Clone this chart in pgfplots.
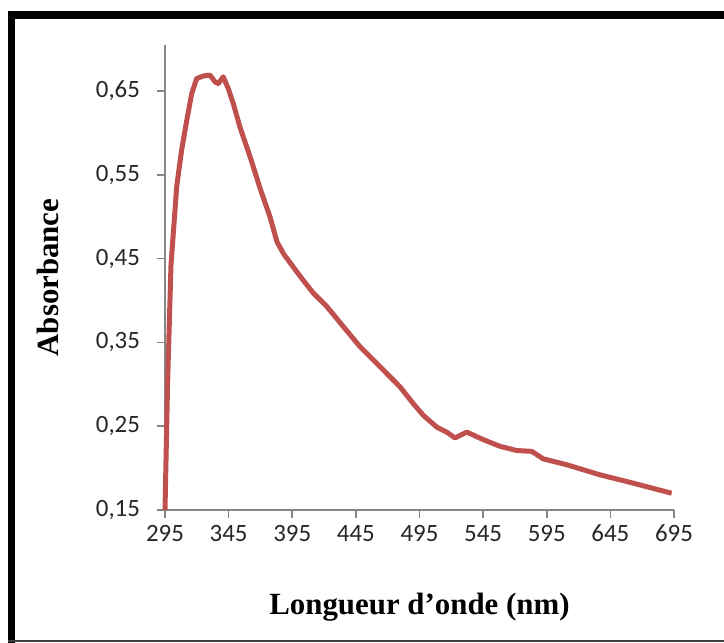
\documentclass[border=0pt]{standalone}
\usepackage{fontspec}
\setmainfont{Liberation Serif}
\newfontfamily\calibri{Carlito}
\usepackage{pgfplots}
\pgfplotsset{compat=1.18}
\definecolor{exred}{RGB}{192,80,77}
\definecolor{axgray}{RGB}{134,134,134}
\begin{document}
\begin{tikzpicture}
\useasboundingbox (0,0) rectangle (362bp,321.5bp);
% frame
\draw[line width=4bp,black] (4bp,314bp) -- (362bp,314bp);
\draw[line width=3.5bp,black] (5.75bp,316bp) -- (5.75bp,0);
\draw[line width=0.8bp,black!75] (4bp,1bp) -- (362bp,1bp);
\begin{axis}[
  at={(82.5bp,66.5bp)}, anchor=south west,
  scale only axis, width=254.5bp, height=232.5bp,
  xmin=295, xmax=695, ymin=0.15, ymax=0.705,
  axis x line*=bottom, axis y line*=left,
  axis line style={axgray, line width=0.8bp, -},
  every tick/.style={axgray, line width=0.8bp},
  tick align=outside, major tick length=4bp,
  xtick={295,345,...,695},
  ytick={0.15,0.25,0.35,0.45,0.55,0.65},
  yticklabels={{0,15},{0,25},{0,35},{0,45},{0,55},{0,65}},
  /pgf/number format/assume math mode=true,
  tick label style={font=\calibri\fontsize{12.5}{13}\selectfont, text=black!85},
  yticklabel style={xshift=-5bp},
  xticklabel style={yshift=0bp},
  xlabel={\textbf{Longueur d’onde (nm)}},
  ylabel={\textbf{Absorbance}},
  label style={font=\fontsize{15.5}{17}\selectfont},
  xlabel style={at={(axis description cs:0.5,0)}, anchor=center, yshift=-48.5bp},
  ylabel style={at={(axis description cs:0,0.5)}, anchor=center, yshift=58.5bp},
  clip=false,
]
\addplot[exred, line width=2.5bp, line join=round] coordinates {
(295,0.150) (297.0,0.299) (299.7,0.442) (304.2,0.536) (308.1,0.580)
(312.1,0.615) (316.0,0.647) (319.9,0.665) (325.1,0.668) (330.4,0.669)
(334.3,0.661) (336.9,0.659) (340.8,0.667) (344.7,0.653) (348.7,0.635)
(353.9,0.607) (361.8,0.572) (369.7,0.534) (377.5,0.500) (383.0,0.470)
(388.5,0.455) (395.8,0.440) (403.7,0.424) (411.5,0.409) (422.1,0.393) (435.1,0.369)
(448.2,0.345) (464.0,0.321) (479.7,0.297) (490.1,0.277) (498.0,0.263)
(508.5,0.249) (516.4,0.243) (522.9,0.236) (532.1,0.243) (545.1,0.234)
(558.3,0.226) (571.4,0.221) (583.2,0.220) (592.3,0.211) (610.7,0.204)
(636.8,0.192) (663.0,0.182) (693.2,0.170)
};
\end{axis}
\end{tikzpicture}
\end{document}
